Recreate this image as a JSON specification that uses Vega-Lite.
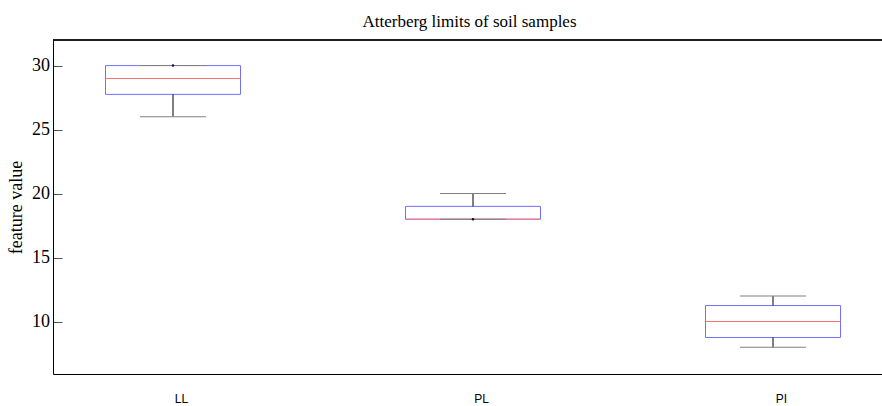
{
  "$schema": "https://vega.github.io/schema/vega-lite/v6.json",
  "width": 829,
  "height": 334,
  "autosize": "none",
  "padding": {"left": 53, "top": 40, "right": 0, "bottom": 32},
  "background": "white",
  "config": {"view": {"stroke": null}},
  "title": {"text": "Atterberg limits of soil samples", "font": "Liberation Serif", "fontSize": 17, "fontWeight": "normal", "color": "black", "offset": 9, "anchor": "middle", "frame": "group", "dx": 2},
  "data": {"values": [
    {"feature": "LL", "lower": 26, "q1": 27.75, "median": 29, "q3": 30, "upper": 30},
    {"feature": "PL", "lower": 18, "q1": 18, "median": 18, "q3": 19, "upper": 20},
    {"feature": "PI", "lower": 8, "q1": 8.75, "median": 10, "q3": 11.25, "upper": 12}
  ]},
  "encoding": {
    "x": {"field": "feature", "type": "nominal", "sort": null, "title": null,
      "scale": {"type": "point", "range": [0, 840], "padding": 0.4},
      "axis": {"labelAngle": 0, "labelFont": "Liberation Sans", "labelFontSize": 12, "labelColor": "black", "ticks": false, "labelPadding": 19, "labelOffset": 8, "domainColor": "black", "domainWidth": 1, "grid": false}}
  },
  "layer": [
    {
      "mark": {"type": "bar", "fill": "white", "stroke": "#7070ff", "strokeWidth": 1, "size": 135},
      "encoding": {
        "y": {"field": "q1", "type": "quantitative", "title": "feature value",
          "scale": {"domain": [5.9, 32], "nice": false, "zero": false},
          "axis": {"values": [10, 15, 20, 25, 30], "grid": false, "labelFont": "Liberation Serif", "labelFontSize": 18, "labelColor": "black", "tickSize": -9, "tickColor": "#555555", "labelPadding": 12.5, "domainColor": "black", "domainWidth": 1, "titleFont": "Liberation Serif", "titleFontSize": 18, "titleFontWeight": "normal", "titleColor": "black", "titlePadding": 6}},
        "y2": {"field": "q3"}
      }
    },
    {
      "mark": {"type": "tick", "color": "#ff7070", "size": 135, "thickness": 1, "opacity": 1},
      "encoding": {"y": {"field": "median", "type": "quantitative"}}
    },
    {
      "mark": {"type": "rule", "color": "black", "strokeWidth": 1},
      "encoding": {"y": {"field": "lower", "type": "quantitative"}, "y2": {"field": "q1"}}
    },
    {
      "mark": {"type": "rule", "color": "black", "strokeWidth": 1},
      "encoding": {"y": {"field": "q3", "type": "quantitative"}, "y2": {"field": "upper"}}
    },
    {
      "mark": {"type": "tick", "color": "#808080", "size": 66, "thickness": 1, "opacity": 1},
      "encoding": {"y": {"field": "lower", "type": "quantitative"}}
    },
    {
      "mark": {"type": "tick", "color": "#808080", "size": 66, "thickness": 1, "opacity": 1},
      "encoding": {"y": {"field": "upper", "type": "quantitative"}}
    },
    {
      "transform": [{"filter": "datum.upper == datum.q3"}],
      "mark": {"type": "point", "filled": true, "color": "#101050", "size": 6, "opacity": 1},
      "encoding": {"y": {"field": "upper", "type": "quantitative"}}
    },
    {
      "transform": [{"filter": "datum.lower == datum.q1"}],
      "mark": {"type": "point", "filled": true, "color": "#101010", "size": 6, "opacity": 1},
      "encoding": {"y": {"field": "lower", "type": "quantitative"}}
    },
    {
      "mark": {"type": "rule", "color": "black", "strokeWidth": 1},
      "encoding": {"x": null, "y": {"datum": 32, "type": "quantitative"}}
    }
  ]
}
